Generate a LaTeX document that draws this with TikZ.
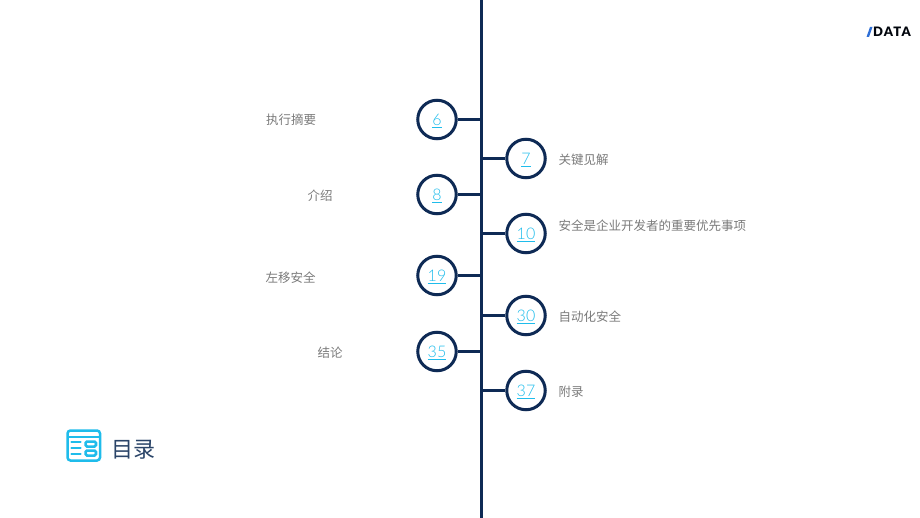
\documentclass[tikz,border=0pt]{standalone}
\usepackage{fontspec}
\setmainfont{Lato Light}
\newfontfamily\cjk{Noto Sans CJK SC}
\newfontfamily\logofont[LetterSpace=9]{Lato Black}
\definecolor{navy}{HTML}{0E2A55}
\definecolor{cyanlink}{HTML}{1FBCEB}
\definecolor{labelgray}{HTML}{7A7A7A}
\definecolor{titleblue}{HTML}{2A4468}
\definecolor{logoblue}{HTML}{2F6FD6}
\tikzset{
  numcirc/.style={circle,draw=navy,line width=3pt,minimum size=38.5pt,inner sep=0pt,text=cyanlink,font=\fontsize{16}{18}\selectfont},
  stem/.style={draw=navy,line width=2.8pt},
  spine/.style={draw=navy,line width=2.8pt},
  lab/.style={font=\cjk\fontsize{12.5}{14}\selectfont,text=labelgray,inner sep=0pt},
  iconline/.style={draw=cyanlink,line width=2.5pt,line cap=round,rounded corners=1.5pt}
}
\newcommand{\ul}[1]{\raisebox{-6pt}[0pt][0pt]{\underline{#1}}}
\begin{document}
\begin{tikzpicture}[x=1pt,y=-1pt]
\useasboundingbox (0,0) rectangle (920,518);
\coordinate (top) at (481.5,0);
\coordinate (bot) at (481.5,518);
\draw[spine] (top) -- (bot);
% left
\foreach \nm/\yy/\tx in {a/119.5/6,c/194.5/8,e/275.5/19,g/351.5/35}{
  \node[numcirc] (\nm) at (437,\yy) {\ul{\tx}};
  \coordinate (\nm s) at (481.5,\yy);
  \draw[stem] (\nm) -- (\nm s);
}
% right
\foreach \nm/\yy/\tx in {b/158.5/7,d/233.5/10,f/315.5/30,h/390.5/37}{
  \node[numcirc] (\nm) at (526,\yy) {\ul{\tx}};
  \coordinate (\nm s) at (481.5,\yy);
  \draw[stem] (\nm) -- (\nm s);
}
\node[lab,anchor=west] (la) at (266,120) {执行摘要};
\node[lab,anchor=west] (lc) at (307.5,195.5) {介绍};
\node[lab,anchor=west] (le) at (265.5,277.5) {左移安全};
\node[lab,anchor=west] (lg) at (317.5,352.5) {结论};
\node[lab,anchor=west] (lb) at (558.5,159.5) {关键见解};
\node[lab,anchor=west] (ld) at (558.5,225.5) {安全是企业开发者的重要优先事项};
\node[lab,anchor=west] (lf) at (558.5,316.5) {自动化安全};
\node[lab,anchor=west] (lh) at (558.5,391.5) {附录};
% title icon
\draw[iconline,rounded corners=3pt] (67.5,430.5) rectangle (100,460.5);
\draw[iconline,line cap=butt] (67.5,437) -- (100,437);
\draw[iconline] (71.5,442) -- (80.5,442);
\draw[iconline] (71.5,448) -- (80.5,448);
\draw[iconline] (71.5,454) -- (80.5,454);
\draw[iconline] (85.5,441.5) rectangle (96,446.5);
\draw[iconline] (85.5,450.5) rectangle (96,455.5);
\node[font=\cjk\fontsize{22}{24}\selectfont,text=titleblue,anchor=west,inner sep=0pt] (title) at (111,449.5) {目录};
% logo
\fill[logoblue] (866.5,37) -- (870,27) -- (872.5,27) -- (869,37) -- cycle;
\node[font=\logofont\fontsize{13}{14}\selectfont,text=black!85!navy,anchor=west,inner sep=0pt] (logo) at (873,32) {DATA};
\end{tikzpicture}
\end{document}
